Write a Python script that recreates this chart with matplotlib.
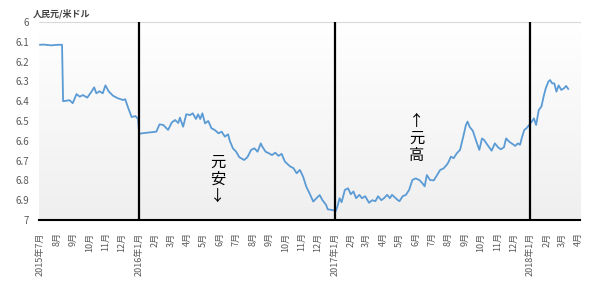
import matplotlib
matplotlib.use("Agg")
import matplotlib.pyplot as plt
from matplotlib.colors import LinearSegmentedColormap
import numpy as np
import pandas as pd

plt.rcParams["font.family"] = ["Noto Sans CJK JP", "DejaVu Sans"]

# CNY per USD
rate_dates = [
    "2015-07-01", "2015-07-08", "2015-07-15", "2015-07-22", "2015-07-29", "2015-08-05", "2015-08-11",
    "2015-08-13", "2015-08-18", "2015-08-25", "2015-08-31", "2015-09-07", "2015-09-13", "2015-09-19",
    "2015-09-27", "2015-10-05", "2015-10-10", "2015-10-14", "2015-10-20", "2015-10-26", "2015-10-31",
    "2015-11-06", "2015-11-14", "2015-11-23", "2015-12-03", "2015-12-07", "2015-12-12", "2015-12-19",
    "2015-12-26", "2015-12-31",
    "2016-01-02", "2016-01-07", "2016-01-20", "2016-02-03", "2016-02-09", "2016-02-16", "2016-02-25",
    "2016-03-03", "2016-03-09", "2016-03-15", "2016-03-18", "2016-03-24", "2016-03-30", "2016-04-06",
    "2016-04-11", "2016-04-17", "2016-04-21", "2016-04-25", "2016-04-29", "2016-05-04", "2016-05-10",
    "2016-05-16", "2016-05-22", "2016-05-29", "2016-06-04", "2016-06-10", "2016-06-16", "2016-06-19",
    "2016-06-25", "2016-07-01", "2016-07-07", "2016-07-16", "2016-07-22", "2016-07-29", "2016-08-04",
    "2016-08-10", "2016-08-16", "2016-08-19", "2016-08-25", "2016-08-31", "2016-09-06", "2016-09-12",
    "2016-09-18", "2016-09-24", "2016-09-30", "2016-10-10", "2016-10-16", "2016-10-22", "2016-10-28",
    "2016-11-03", "2016-11-09", "2016-11-15", "2016-11-22", "2016-11-28", "2016-12-04", "2016-12-09",
    "2016-12-16", "2016-12-19", "2016-12-28", "2016-12-31",
    "2017-01-03", "2017-01-06", "2017-01-10", "2017-01-14", "2017-01-20", "2017-01-26", "2017-01-31",
    "2017-02-05", "2017-02-10", "2017-02-16", "2017-02-21", "2017-02-27", "2017-03-06", "2017-03-12",
    "2017-03-18", "2017-03-23", "2017-03-29", "2017-04-03", "2017-04-09", "2017-04-14", "2017-04-18",
    "2017-04-23", "2017-04-29", "2017-05-02", "2017-05-08", "2017-05-14", "2017-05-20", "2017-05-26",
    "2017-06-01", "2017-06-08", "2017-06-14", "2017-06-18", "2017-06-22", "2017-06-28", "2017-07-05",
    "2017-07-11", "2017-07-17", "2017-07-23", "2017-07-29", "2017-08-01", "2017-08-06", "2017-08-11",
    "2017-08-17", "2017-08-23", "2017-08-29", "2017-09-03", "2017-09-06", "2017-09-10", "2017-09-16",
    "2017-09-22", "2017-09-28", "2017-10-03", "2017-10-07", "2017-10-13", "2017-10-21", "2017-10-27",
    "2017-11-02", "2017-11-07", "2017-11-13", "2017-11-17", "2017-11-23", "2017-11-29", "2017-12-04",
    "2017-12-09", "2017-12-13", "2017-12-17", "2017-12-21", "2017-12-25",
    "2018-01-02", "2018-01-06", "2018-01-08", "2018-01-12", "2018-01-17", "2018-01-22", "2018-01-26",
    "2018-01-30", "2018-02-04", "2018-02-07", "2018-02-11", "2018-02-15", "2018-02-19", "2018-02-23",
    "2018-02-28", "2018-03-05", "2018-03-09", "2018-03-13",
]
rate_values = [
    6.115, 6.114, 6.116, 6.118, 6.116, 6.115, 6.115,
    6.400, 6.398, 6.395, 6.410, 6.364, 6.377, 6.369,
    6.382, 6.352, 6.330, 6.360, 6.350, 6.360, 6.320,
    6.350, 6.372, 6.385, 6.394, 6.390, 6.430, 6.480,
    6.475, 6.490,
    6.566, 6.562, 6.558, 6.554, 6.517, 6.520, 6.545,
    6.507, 6.495, 6.510, 6.483, 6.529, 6.466, 6.470,
    6.461, 6.490, 6.466, 6.490, 6.461, 6.512, 6.500,
    6.537, 6.545, 6.562, 6.554, 6.579, 6.567, 6.599,
    6.638, 6.655, 6.683, 6.697, 6.683, 6.646, 6.638,
    6.655, 6.613, 6.630, 6.655, 6.663, 6.672, 6.660,
    6.676, 6.666, 6.705, 6.730, 6.738, 6.764, 6.747,
    6.781, 6.832, 6.865, 6.907, 6.890, 6.874, 6.899,
    6.924, 6.946, 6.950, 6.952,
    6.955, 6.933, 6.890, 6.910, 6.848, 6.840, 6.870,
    6.856, 6.890, 6.873, 6.890, 6.880, 6.913, 6.900,
    6.905, 6.880, 6.900, 6.890, 6.873, 6.890, 6.873,
    6.885, 6.900, 6.905, 6.880, 6.873, 6.848, 6.798,
    6.790, 6.798, 6.815, 6.830, 6.773, 6.798, 6.800,
    6.773, 6.747, 6.740, 6.722, 6.710, 6.680, 6.688,
    6.663, 6.646, 6.579, 6.520, 6.503, 6.530, 6.550,
    6.600, 6.646, 6.588, 6.596, 6.620, 6.650, 6.613,
    6.633, 6.643, 6.633, 6.588, 6.605, 6.616, 6.626,
    6.613, 6.620, 6.579, 6.545, 6.537,
    6.510, 6.495, 6.487, 6.520, 6.444, 6.427, 6.377,
    6.335, 6.301, 6.293, 6.310, 6.310, 6.352, 6.320,
    6.343, 6.335, 6.323, 6.338,
]
year_marks = ["2016-01-01", "2017-01-01", "2018-01-01"]
y_ticks = [6.0, 6.1, 6.2, 6.3, 6.4, 6.5, 6.6, 6.7, 6.8, 6.9, 7.0]
month_ticks = pd.date_range("2015-07-01", "2018-04-01", freq="MS")
month_labels = [
    f"{d.year}年{d.month}月" if (d.month == 1 or i == 0) else f"{d.month}月"
    for i, d in enumerate(month_ticks)
]

dates = pd.to_datetime(rate_dates)

fig = plt.figure(figsize=(6, 2.9), dpi=100)
ax = fig.add_axes([0.065, 0.2414, 0.9017, 0.6827])

# soft vertical gradient behind the plot
grad = LinearSegmentedColormap.from_list("bg", ["#efefef", "#ffffff"])
ax.imshow(np.linspace(0, 1, 256).reshape(-1, 1), cmap=grad, origin="lower",
          extent=[0, 1, 0, 1], transform=ax.transAxes, aspect="auto", zorder=0)

ax.plot(dates, rate_values, color="#5b9bd5", lw=1.3, zorder=3)
for d in year_marks:
    ax.axvline(pd.Timestamp(d), color="black", lw=1.6, zorder=4)

ax.set_xlim(pd.Timestamp("2015-06-29"), pd.Timestamp("2018-04-04"))
ax.set_ylim(7.0, 6.0)
ax.set_yticks(y_ticks)
ax.set_yticklabels([f"{v:g}" for v in y_ticks])
ax.set_xticks(month_ticks)
ax.set_xticklabels(month_labels, rotation=90, va="top", ha="center")
ax.tick_params(axis="y", length=0, pad=7, labelsize=7, labelcolor="#595959")
ax.tick_params(axis="x", length=0, pad=9, labelsize=6.5, labelcolor="#595959")

for side in ["left", "right"]:
    ax.spines[side].set_visible(False)
ax.spines["top"].set_color("#d9d9d9")
ax.spines["top"].set_linewidth(0.8)
ax.spines["bottom"].set_color("black")
ax.spines["bottom"].set_linewidth(1.5)

fig.text(0.055, 0.952, "人民元/米ドル", fontsize=6.5, color="#404040",
         fontweight="bold", va="center", ha="left")

ax.text(pd.Timestamp("2016-05-28"), 6.795, "元\n安\n↓", fontsize=11, ha="center",
        va="center", linespacing=1.0, zorder=5)
ax.text(pd.Timestamp("2017-06-03"), 6.586, "↑\n元\n高", fontsize=11, ha="center",
        va="center", linespacing=1.0, zorder=5)

fig.savefig("out.png", dpi=100)
plt.close(fig)
